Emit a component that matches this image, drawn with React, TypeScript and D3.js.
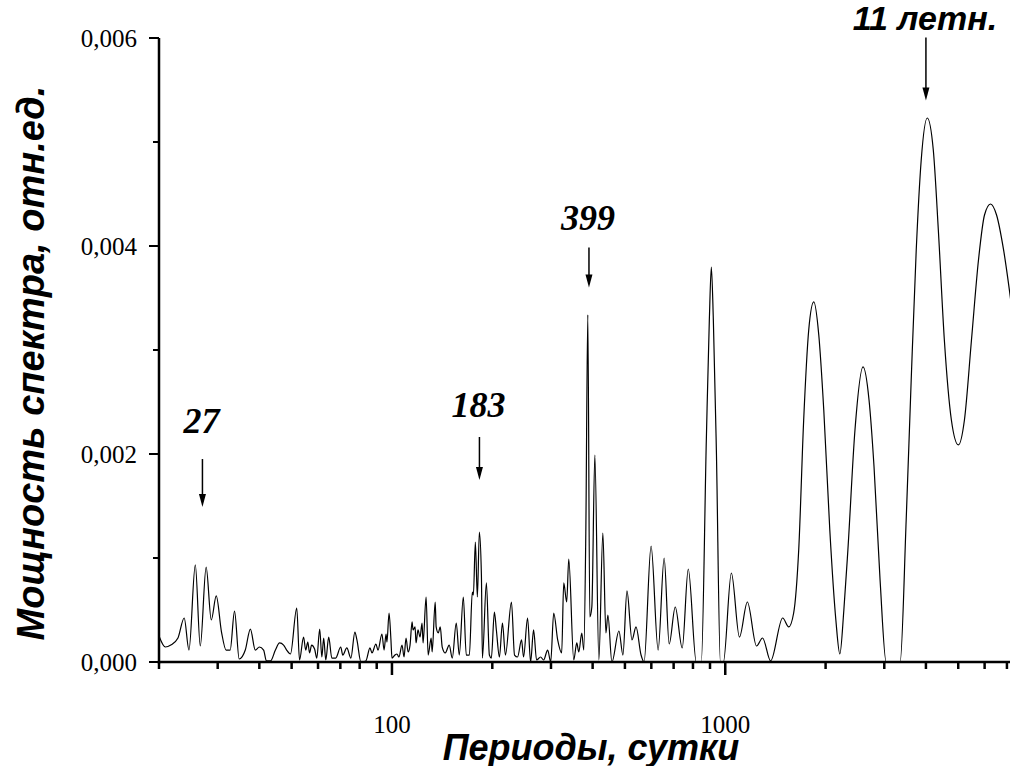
import React from 'react';
import * as d3 from 'd3';

// periods (days) and spectral power
const periods = [
  20, 20.9, 21.7, 22.8, 23.8, 24.6, 25.7, 26.6, 27.7, 28.7,
  29.7, 30.8, 31.8, 32.7, 33.7, 34.8, 36.3, 37.6, 38.9, 40.0,
  41.2, 42.0, 43.2, 44.7, 46.0, 47.3, 48.3, 49.6, 51.8, 52.8,
  54.3, 55.1, 55.9, 56.6, 57.4, 58.6, 59.5, 60.7, 61.6, 62.4,
  63.3, 64.6, 66.0, 67.8, 70.2, 71.2, 73.2, 75.3, 77.4, 78.5,
  80.7, 83.5, 85.9, 87.1, 89.5, 90.8, 93.3, 94.7, 96.0, 96.6,
  98.0, 99.3, 100.0, 102.1, 103.5, 104.9, 107.2, 108.7, 110.2, 111.8,
  113.3, 114.9, 115.7, 117.3, 118.1, 119.7, 121.4, 123.1, 124.0, 126.6,
  128.4, 131.1, 132.0, 134.8, 135.7, 137.7, 139.6, 141.5, 144.5, 148.5,
  151.7, 155.9, 159.2, 163.7, 167.1, 170.7, 174.2, 175.5, 177.9, 180.4,
  182.9, 185.5, 186.8, 192.0, 196.0, 198.7, 202.9, 205.7, 210.1, 214.5,
  219.0, 228.3, 233.2, 238.1, 244.8, 248.2, 255.2, 260.6, 266.0, 271.6,
  279.2, 285.1, 293.2, 299.4, 305.7, 314.2, 323.0, 327.6, 334.4, 339.2,
  351.1, 358.5, 363.5, 371.1, 376.3, 381.6, 386.9, 392.3, 397.8, 406.2,
  417.6, 429.3, 438.4, 444.5, 457.0, 479.7, 493.1, 507.1, 525.0, 539.8,
  558.9, 570.7, 599.0, 628.9, 655.6, 678.8, 707.8, 742.8, 774.4, 818.6,
  847.5, 877.4, 895.8, 908.3, 921.0, 940.4, 966.8, 987.2, 1043, 1103,
  1165, 1241, 1294, 1368, 1487, 1550, 1604, 1661, 1719, 1780,
  1843, 1908, 1975, 2059, 2147, 2207, 2269, 2333, 2450, 2590,
  2700, 2795, 2914, 3039, 3347, 3490, 3613, 3741, 3872, 4037,
  4209, 4358, 4543, 4769, 5006, 5219, 5479, 5751, 5995, 6250,
  6516, 6840, 7218,
];

const power = [
  0.00025, 0.000144, 0.000163, 0.000231, 0.000423, 0.000115, 0.000933, 0.000154, 0.000913, 0.000404,
  0.000635, 0.000288, 0.000115, 0.000115, 0.00049, 0.000029, 0.000115, 0.000317, 0.000115, 0.000144,
  0.000115, 0.00001, 0.00001, 0.000115, 0.000183, 0.000163, 0.000115, 0.000077, 0.000519, 0.000019,
  0.00024, 0.000115, 0.000192, 0.000087, 0.000163, 0.000125, 0.000038, 0.000317, 0.000048, 0.000231,
  0.000019, 0.00024, 0.000038, 0.000038, 0.000144, 0.000067, 0.000135, 0.000038, 0.000288, 0.000212,
  0, 0.00001, 0.000135, 0.000087, 0.000173, 0.000115, 0.000269, 0.000115, 0.000269, 0.000192,
  0.000471, 0.000212, 0.000038, 0.000067, 0.000077, 0.000048, 0.000163, 0.000048, 0.000231, 0.000096,
  0.000163, 0.000385, 0.000308, 0.000337, 0.000183, 0.000308, 0.00024, 0.000375, 0.000183, 0.000625,
  0.000067, 0.000231, 0.000096, 0.000577, 0.000337, 0.000279, 0.000337, 0.000144, 0.000087, 0.000163,
  0.000038, 0.000375, 0.000067, 0.000625, 0.000067, 0.000067, 0.000673, 0.000644, 0.001154, 0.000625,
  0.00125, 0.000837, 0.000038, 0.00076, 0.000067, 0.000038, 0.000481, 0.000308, 0.000048, 0.000375,
  0.000067, 0.000577, 0.000067, 0.000048, 0.000212, 0.000048, 0.000423, 0, 0.000308, 0.000019,
  0.000048, 0.000019, 0.000115, 0, 0.000471, 0.000212, 0.000087, 0.00076, 0.000577, 0.00099,
  0.000019, 0.000183, 0.000096, 0.000279, 0.000115, 0.00124, 0.003337, 0.000433, 0.000529, 0.00199,
  0.000019, 0.00124, 0.000279, 0.000452, 0, 0.000298, 0.000067, 0.000683, 0.000212, 0.000337,
  0.000067, 0, 0.001115, 0.000115, 0.001, 0.000173, 0.000529, 0.000135, 0.000894, 0,
  0, 0.002135, 0.003288, 0.003798, 0.003288, 0.002038, 0, 0, 0.000856, 0.00024,
  0.000577, 0.000154, 0.000231, 0.00001, 0.000423, 0.000337, 0.000471, 0.001077, 0.002327, 0.003192,
  0.003462, 0.003144, 0.002423, 0.001269, 0.000404, 0.000077, 0.0005, 0.001077, 0.002231, 0.002837,
  0.002519, 0.001875, 0.000788, 0, 0, 0.001365, 0.002712, 0.003962, 0.004827, 0.005231,
  0.004923, 0.004154, 0.003096, 0.002327, 0.002087, 0.002327, 0.003096, 0.003865, 0.004298, 0.004404,
  0.004298, 0.003962, 0.003433,
];

const xMajorTicks = [100, 1000];
const xMinorTicks = [20, 30, 40, 50, 60, 70, 80, 90, 200, 300, 400, 500, 600, 700, 800, 900, 2000, 3000, 4000, 5000, 6000, 7000];
const yMajorTicks = [0, 0.002, 0.004, 0.006];
const yMinorTicks = [0.001, 0.003, 0.005];

const peakLabels = ['27', '183', '399', '11 летн.'];
const peakPeriods = [27, 183, 390, 4000];
const peakTips = [0.00149, 0.00175, 0.0036, 0.0054];
const arrowLen = [48, 43, 40, 63];
const labelGap = [26, 20, 18, 7];

const W = 1010;
const H = 766;
const left = 159;
const top = 38;
const bottom = 662;

const serif = '"Liberation Serif", "Times New Roman", serif';
const sans = '"Liberation Sans", Arial, sans-serif';

export default function App() {
  const x = d3.scaleLog().domain([20, 7150]).range([left, W]);
  const y = d3.scaleLinear().domain([0, 0.006]).range([bottom, top]);

  const pts = periods.map((p, i) => [p, power[i]] as [number, number]);
  const line = d3.line<[number, number]>()
    .x(d => x(d[0]))
    .y(d => y(d[1]))
    .curve(d3.curveMonotoneX);

  const fmt = (v: number) => d3.format('.3f')(v).replace('.', ',');

  return (
    <svg width={W} height={H} style={{position: 'absolute', left: 0, top: 0, background: '#fff'}}>
      <defs>
        <clipPath id="plot">
          <rect x={left} y={0} width={W - left} height={bottom + 1} />
        </clipPath>
      </defs>
      <rect x={0} y={0} width={W} height={H} fill="#fff" />

      <path d={line(pts) || ''} fill="none" stroke="#000" strokeWidth={1.2} clipPath="url(#plot)" />

      {/* axes */}
      <line x1={left} x2={left} y1={top} y2={bottom + 1.5} stroke="#000" strokeWidth={2.5} />
      <line x1={left - 1.2} x2={W} y1={bottom} y2={bottom} stroke="#000" strokeWidth={2.5} />

      {yMajorTicks.map(t => (
        <g key={'ym' + t}>
          <line x1={left - 10} x2={left} y1={y(t)} y2={y(t)} stroke="#000" strokeWidth={2} />
          <text x={left - 22} y={y(t)} dy="0.35em" textAnchor="end" fontFamily={serif} fontSize={25}>{fmt(t)}</text>
        </g>
      ))}
      {yMinorTicks.map(t => (
        <line key={'yn' + t} x1={left - 6} x2={left} y1={y(t)} y2={y(t)} stroke="#000" strokeWidth={2} />
      ))}

      {xMajorTicks.map(t => (
        <g key={'xm' + t}>
          <line x1={x(t)} x2={x(t)} y1={bottom} y2={bottom + 13} stroke="#000" strokeWidth={2.5} />
          <text x={x(t)} y={bottom + 71} textAnchor="middle" fontFamily={serif} fontSize={25}>{t}</text>
        </g>
      ))}
      {xMinorTicks.map(t => (
        <line key={'xn' + t} x1={x(t)} x2={x(t)} y1={bottom} y2={bottom + 7} stroke="#000" strokeWidth={2.5} />
      ))}

      {/* axis titles */}
      <text x={591} y={760} textAnchor="middle" fontFamily={sans} fontWeight="bold" fontStyle="italic" fontSize={36}>
        Периоды, сутки
      </text>
      <text transform={`translate(44,${(top + bottom) / 2 + 13}) rotate(-90)`} textAnchor="middle"
        fontFamily={sans} fontWeight="bold" fontStyle="italic" fontSize={38}>
        Мощность спектра, отн.ед.
      </text>

      {/* peak annotations */}
      {peakLabels.map((lab, i) => {
        const px = x(peakPeriods[i]);
        const tip = y(peakTips[i]);
        const start = tip - arrowLen[i];
        return (
          <g key={lab}>
            <line x1={px} x2={px} y1={start} y2={tip - 10} stroke="#000" strokeWidth={1.5} />
            <path d={`M${px - 3.5},${tip - 13}L${px + 3.5},${tip - 13}L${px},${tip}Z`} fill="#000" />
            <text x={px - 1} y={start - labelGap[i]} textAnchor="middle"
              fontFamily={i === 3 ? sans : serif} fontWeight="bold" fontStyle="italic"
              fontSize={i === 3 ? 34 : 36}>{lab}</text>
          </g>
        );
      })}
    </svg>
  );
}
